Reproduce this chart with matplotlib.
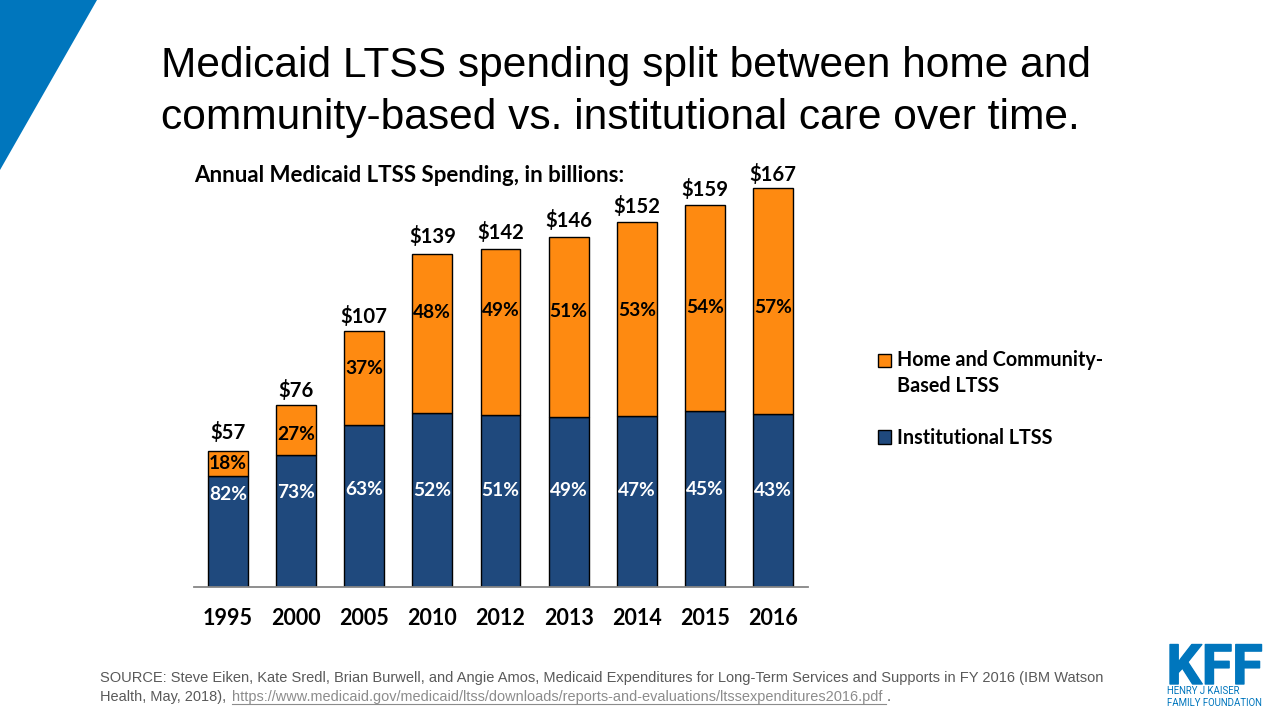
import matplotlib
matplotlib.use('Agg')
import matplotlib.pyplot as plt
import matplotlib.patheffects as pe
from matplotlib.patches import Polygon

years = ['1995', '2000', '2005', '2010', '2012', '2013', '2014', '2015', '2016']
totals = ['$57', '$76', '$107', '$139', '$142', '$146', '$152', '$159', '$167']
institutional = [46.5, 55.3, 67.8, 72.8, 72.0, 71.2, 71.6, 73.7, 72.4]
hcbs = [10.5, 20.9, 39.3, 66.4, 69.6, 75.3, 81.2, 86.2, 94.6]
institutional_pct = ['82%', '73%', '63%', '52%', '51%', '49%', '47%', '45%', '43%']
hcbs_pct = ['18%', '27%', '37%', '48%', '49%', '51%', '53%', '54%', '57%']

# label heights in the original do not follow the segment middles
inst_label_y = [38.7, 39.6, 40.8, 40.4, 40.4, 40.4, 40.4, 40.8, 40.4]
hcbs_label_y = [51.7, 63.9, 91.5, 114.9, 115.8, 115.3, 115.8, 117.0, 117.0]
total_label_y = [64.5, 82.1, 113.1, 146.5, 148.2, 153.2, 159.1, 166.2, 172.5]

BLUE = '#1f497d'
ORANGE = '#fe8a11'
KFF_BLUE = '#0076bd'
BODY_FONT = 'Lato'
W, H = 1280, 720

fig = plt.figure(figsize=(12.8, 7.2), dpi=100)

# whole slide overlay, in pixels
bg = fig.add_axes([0, 0, 1, 1])
bg.set_xlim(0, W)
bg.set_ylim(H, 0)
bg.axis('off')
bg.add_patch(Polygon([(0, 0), (97, 0), (0, 170)], closed=True, color=KFF_BLUE, lw=0))

bg.text(161, 66, 'Medicaid LTSS spending split between home and', fontsize=30.6,
        family='Liberation Sans', va='center', color='black')
bg.text(161, 118, 'community-based vs. institutional care over time.', fontsize=30.6,
        family='Liberation Sans', va='center', color='black')
bg.text(194, 176, 'Annual Medicaid LTSS Spending, in billions:', fontsize=16,
        family=BODY_FONT, weight='bold', va='center')

# chart
ax = fig.add_axes([194 / W, (H - 587) / H, 614 / W, 437 / H])
ax.patch.set_alpha(0)
x = list(range(len(years)))
b1 = ax.bar(x, institutional, width=0.585, color=BLUE, edgecolor='black', linewidth=1,
            label='Institutional LTSS')
b2 = ax.bar(x, hcbs, width=0.585, bottom=institutional, color=ORANGE, edgecolor='black',
            linewidth=1, label='Home and Community-\nBased LTSS')
ax.set_xlim(-0.5, 8.515)
ax.set_ylim(0, 182.9)

for i in x:
    ax.text(i, inst_label_y[i], institutional_pct[i], ha='center', va='center',
            color='white', fontsize=13.8, weight='bold', family=BODY_FONT)
    ax.text(i, hcbs_label_y[i], hcbs_pct[i], ha='center', va='center',
            color='black', fontsize=13.8, weight='bold', family=BODY_FONT)
    ax.text(i, total_label_y[i], totals[i], ha='center', va='center',
            fontsize=14.6, weight='bold', family=BODY_FONT)

ax.set_xticks(x)
ax.set_xticklabels(years, fontsize=15.5, weight='bold', family=BODY_FONT)
ax.tick_params(axis='x', length=0, pad=15)
ax.set_yticks([])
for s in ['top', 'left', 'right']:
    ax.spines[s].set_visible(False)
ax.spines['bottom'].set_color('#868686')
ax.spines['bottom'].set_linewidth(1.3)

leg = fig.legend([b2, b1], [b2.get_label(), b1.get_label()], loc='upper left',
                 bbox_to_anchor=(878 / W, 1 - 350 / H), frameon=False,
                 prop={'family': BODY_FONT, 'weight': 'bold', 'size': 14.2},
                 handlelength=0.66, handleheight=0.66, handletextpad=0.3,
                 labelspacing=1.6, borderpad=0, borderaxespad=0)
for t in leg.get_texts():
    t.set_linespacing(1.4)
# swatch sits on the first line of the wrapped label
leg.legend_handles[0].set_y(leg.legend_handles[0].get_y() + 10)

# source note
src_color = '#595959'
link_color = '#8c8c8c'
bg.text(100, 678, 'SOURCE: Steve Eiken, Kate Sredl, Brian Burwell, and Angie Amos, Medicaid '
        'Expenditures for Long-Term Services and Supports in FY 2016 (IBM Watson',
        fontsize=10.5, family='Liberation Sans', color=src_color, va='center')
bg.text(100, 697, 'Health, May, 2018),', fontsize=10.47, family='Liberation Sans',
        color=src_color, va='center')
bg.text(232, 697, 'https://www.medicaid.gov/medicaid/ltss/downloads/reports-and-evaluations/'
        'ltssexpenditures2016.pdf', fontsize=10.47, family='Liberation Sans', color=link_color,
        va='center')
bg.text(887, 697, '.', fontsize=10.47, family='Liberation Sans', color=src_color, va='center')
bg.plot([232, 886], [704, 704], color=link_color, lw=0.8)

# logo
bg.text(1214.5, 663.5, 'KFF', fontsize=40, family='Roboto', weight='bold', color=KFF_BLUE,
        ha='center', va='center_baseline',
        path_effects=[pe.withStroke(linewidth=1, foreground=KFF_BLUE)])
bg.text(1167, 691.5, 'HENRY J KAISER', fontsize=6.9, family='Roboto', color=KFF_BLUE, va='center')
bg.text(1167, 702.5, 'FAMILY FOUNDATION', fontsize=6.9, family='Roboto', color=KFF_BLUE, va='center')

fig.savefig('out.png', dpi=100)
